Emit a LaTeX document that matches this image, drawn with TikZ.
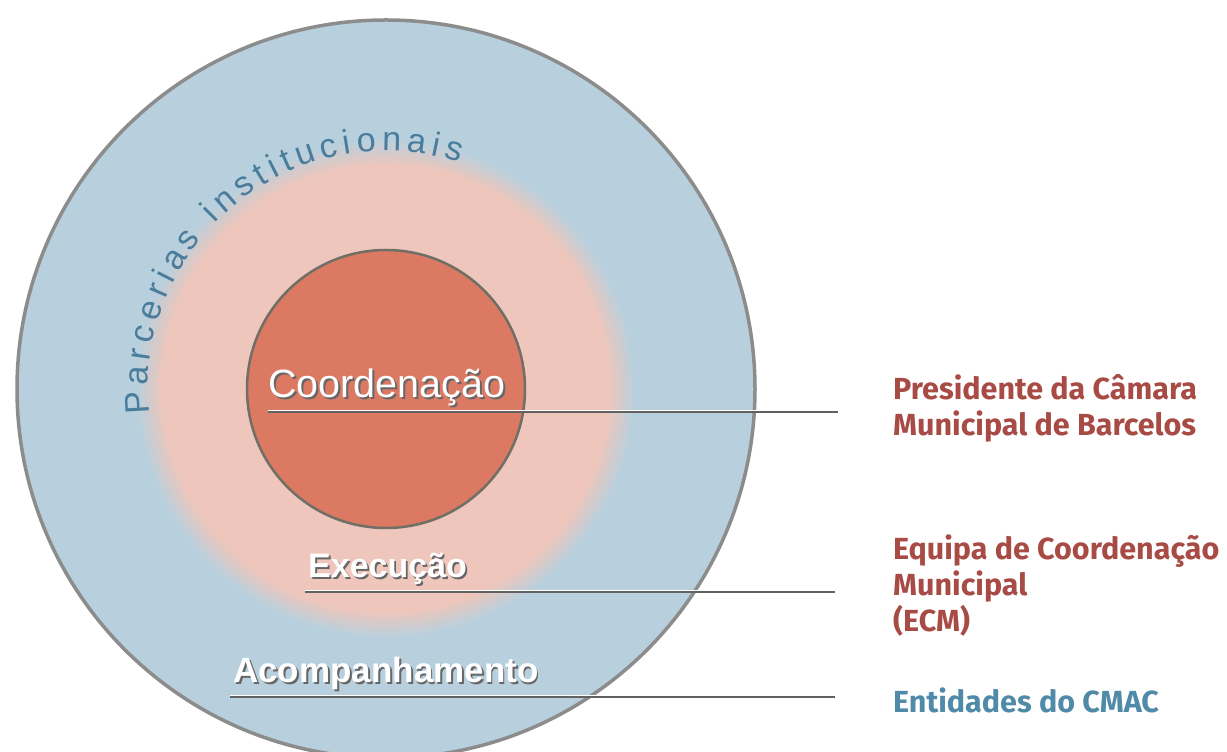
\documentclass[tikz,border=0pt]{standalone}
\usepackage{fontspec}
\setmainfont{Liberation Sans}
\newfontfamily\legfont{Fira Sans}
\usepackage{xcolor}
\usetikzlibrary{calc,decorations.text}
\definecolor{cmacblue}{HTML}{B8D0DE}
\definecolor{cmacpink}{HTML}{EEC6BB}
\definecolor{cmacred}{HTML}{DB7963}
\definecolor{cmacrim}{HTML}{6F6F66}
\definecolor{cmacedge}{HTML}{8C8C8C}
\definecolor{cmacwine}{HTML}{A84B45}
\definecolor{cmacteal}{HTML}{4F8AA8}
\definecolor{cmacarc}{HTML}{4A7C9C}
\newcommand\embossed[1]{\rlap{\kern1.8pt\raisebox{-1.8pt}{\textcolor{black!60}{#1}}}\textcolor{white}{#1}}

\begin{document}
\begin{tikzpicture}[
    x=1pt,y=1pt,
    lvl/.style  = {anchor=base west,inner sep=0pt},
    leg/.style  = {anchor=west,inner sep=0pt,align=left,
                   font=\legfont\bfseries\fontsize{30.5}{36}\selectfont},
    leader/.style = {draw=black!62,line width=1.6pt,shorten >=55pt,
                   postaction={draw=white,line width=0.9pt,shorten >=55pt,
                               transform canvas={yshift=1.6pt}}},
  ]
  \fill[white] (0,0) rectangle (1227,752);
  \clip (0,0) rectangle (1227,752);
  \coordinate (O) at (386,363);

  % Anneaux
  \fill[cmacblue] (O) circle (369);
  \foreach \r [evaluate=\r as \p using (250-\r)*100/26] in {250,248,...,224}
    \fill[cmacpink!\p!cmacblue] (O) circle (\r);
  \draw[cmacedge,line width=3.5pt] (O) circle (369);
  \filldraw[fill=cmacred,draw=cmacrim,line width=2.5pt] (O) circle (139);

  % Texte courbe
  \path[decorate,decoration={text along path,text align={fit to path},
        text={|\fontsize{34}{34}\selectfont\color{cmacarc}|Parcerias institucionais}}]
    ($(O)+(186:238)$) arc[start angle=186,end angle=72,radius=238];

  % Niveaux
  \node[lvl,font=\fontsize{39.5}{39.5}\selectfont] (coord) at (268,354) {\embossed{Coordenação}};
  \node[lvl,font=\bfseries\fontsize{34}{34}\selectfont] (exec) at (308,174) {\embossed{Execução}};
  \node[lvl,font=\bfseries\fontsize{35}{35}\selectfont] (acomp) at (233,69) {\embossed{Acompanhamento}};

  % Legendes
  \node[leg,text=cmacwine] (pres) at (893,344) {Presidente da Câmara\\Municipal de Barcelos};
  \node[leg,text=cmacwine] (ecm) at (893,166) {Equipa de Coordenação\\Municipal\\(ECM)};
  \node[leg,text=cmacteal] (cmac) at (893,52) {Entidades do CMAC};

  % Traits
  \draw[leader] ([yshift=-14pt]coord.base west) -- ([yshift=-14pt]coord.base west -| pres.west);
  \draw[leader] ([xshift=-3pt,yshift=-14pt]exec.base west) -- ([xshift=-3pt,yshift=-14pt]exec.base west -| ecm.west);
  \draw[leader] ([xshift=-3pt,yshift=-14pt]acomp.base west) -- ([xshift=-3pt,yshift=-14pt]acomp.base west -| cmac.west);
\end{tikzpicture}
\end{document}
